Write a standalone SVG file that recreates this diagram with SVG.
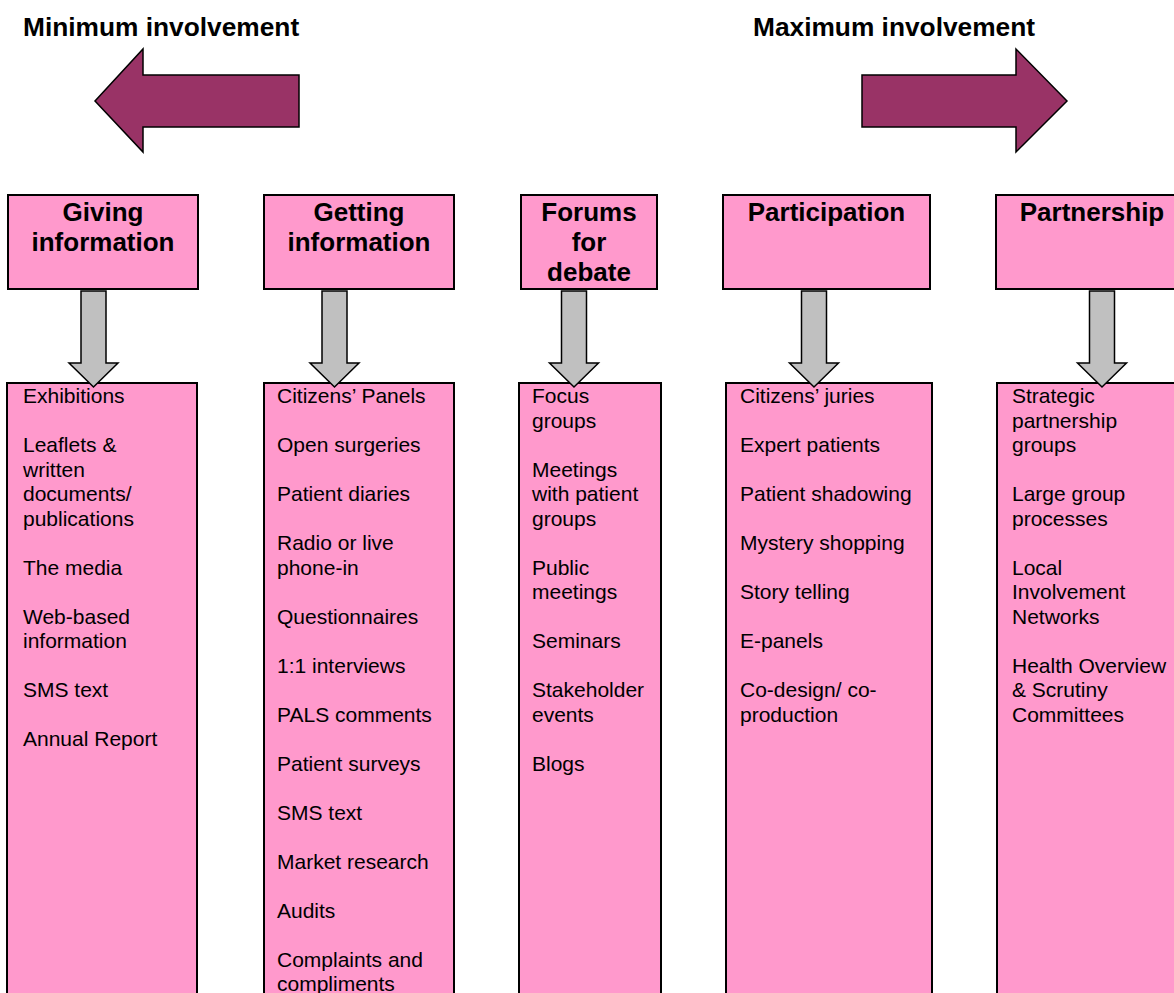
<svg xmlns="http://www.w3.org/2000/svg" xmlns:xlink="http://www.w3.org/1999/xlink" width="1174" height="993" viewBox="0 0 1174 993">
<style>
.box{fill:#FF99CC;stroke:#000;stroke-width:2}
.big{fill:#993366;stroke:#000;stroke-width:1.5;stroke-linejoin:miter}
.down{fill:#C0C0C0;stroke:#000;stroke-width:1.5}
.title{font-family:"Liberation Sans",Arial,sans-serif;font-weight:bold;font-size:26.3px;fill:#000}
.head{font-family:"Liberation Sans",Arial,sans-serif;font-weight:bold;font-size:26px;fill:#000;text-anchor:middle}
.item{font-family:"Liberation Sans",Arial,sans-serif;font-size:21px;fill:#000}
</style>
<defs>
<path id="dn" d="M-12.5,291 H12.5 V363 H24.5 L0,387 L-24.5,363 H-12.5 Z"/>
</defs>
<rect width="1174" height="993" fill="#fff"/>

<g id="title-min">
<text class="title" x="23" y="36">Minimum involvement</text>
<polygon class="big" points="95,101 143,49 143,75 299,75 299,127 143,127 143,152"/>
</g>
<g id="title-max">
<text class="title" x="753" y="36">Maximum involvement</text>
<polygon class="big" points="1067,101 1016,49 1016,75 862,75 862,127 1016,127 1016,152"/>
</g>

<g id="giving">
<rect class="box" x="8" y="195" width="190" height="94"/>
<text class="head" x="103" y="221">Giving</text>
<text class="head" x="103" y="251">information</text>
<rect class="box" x="7" y="383" width="190" height="620"/>
<text class="item" x="23" y="403">Exhibitions</text>
<text class="item" x="23" y="452">Leaflets &amp;</text>
<text class="item" x="23" y="476.5">written</text>
<text class="item" x="23" y="501">documents/</text>
<text class="item" x="23" y="525.5">publications</text>
<text class="item" x="23" y="574.5">The media</text>
<text class="item" x="23" y="623.5">Web-based</text>
<text class="item" x="23" y="648">information</text>
<text class="item" x="23" y="697">SMS text</text>
<text class="item" x="23" y="746">Annual Report</text>
</g>

<g id="getting">
<rect class="box" x="264" y="195" width="190" height="94"/>
<text class="head" x="359" y="221">Getting</text>
<text class="head" x="359" y="251">information</text>
<rect class="box" x="264" y="383" width="190" height="620"/>
<text class="item" x="277" y="403">Citizens’ Panels</text>
<text class="item" x="277" y="452">Open surgeries</text>
<text class="item" x="277" y="501">Patient diaries</text>
<text class="item" x="277" y="550">Radio or live</text>
<text class="item" x="277" y="574.5">phone-in</text>
<text class="item" x="277" y="623.5">Questionnaires</text>
<text class="item" x="277" y="672.5">1:1 interviews</text>
<text class="item" x="277" y="721.5">PALS comments</text>
<text class="item" x="277" y="770.5">Patient surveys</text>
<text class="item" x="277" y="819.5">SMS text</text>
<text class="item" x="277" y="868.5">Market research</text>
<text class="item" x="277" y="917.5">Audits</text>
<text class="item" x="277" y="966.5">Complaints and</text>
<text class="item" x="277" y="991">compliments</text>
</g>

<g id="forums">
<rect class="box" x="521" y="195" width="136" height="94"/>
<text class="head" x="589" y="221">Forums</text>
<text class="head" x="589" y="251">for</text>
<text class="head" x="589" y="281">debate</text>
<rect class="box" x="519" y="383" width="142" height="620"/>
<text class="item" x="532" y="403">Focus</text>
<text class="item" x="532" y="427.5">groups</text>
<text class="item" x="532" y="476.5">Meetings</text>
<text class="item" x="532" y="501">with patient</text>
<text class="item" x="532" y="525.5">groups</text>
<text class="item" x="532" y="574.5">Public</text>
<text class="item" x="532" y="599">meetings</text>
<text class="item" x="532" y="648">Seminars</text>
<text class="item" x="532" y="697">Stakeholder</text>
<text class="item" x="532" y="721.5">events</text>
<text class="item" x="532" y="770.5">Blogs</text>
</g>

<g id="participation">
<rect class="box" x="723" y="195" width="207" height="94"/>
<text class="head" x="826.5" y="221">Participation</text>
<rect class="box" x="726" y="383" width="206" height="620"/>
<text class="item" x="740" y="403">Citizens’ juries</text>
<text class="item" x="740" y="452">Expert patients</text>
<text class="item" x="740" y="501">Patient shadowing</text>
<text class="item" x="740" y="550">Mystery shopping</text>
<text class="item" x="740" y="599">Story telling</text>
<text class="item" x="740" y="648">E-panels</text>
<text class="item" x="740" y="697">Co-design/ co-</text>
<text class="item" x="740" y="721.5">production</text>
</g>

<g id="partnership">
<rect class="box" x="996" y="195" width="192" height="94"/>
<text class="head" x="1092" y="221">Partnership</text>
<rect class="box" x="997" y="383" width="192" height="620"/>
<text class="item" x="1012" y="403">Strategic</text>
<text class="item" x="1012" y="427.5">partnership</text>
<text class="item" x="1012" y="452">groups</text>
<text class="item" x="1012" y="501">Large group</text>
<text class="item" x="1012" y="525.5">processes</text>
<text class="item" x="1012" y="574.5">Local</text>
<text class="item" x="1012" y="599">Involvement</text>
<text class="item" x="1012" y="623.5">Networks</text>
<text class="item" x="1012" y="672.5">Health Overview</text>
<text class="item" x="1012" y="697">&amp; Scrutiny</text>
<text class="item" x="1012" y="721.5">Committees</text>
</g>

<g id="connectors">
<use xlink:href="#dn" class="down" transform="translate(93.5,0)"/>
<use xlink:href="#dn" class="down" transform="translate(334.5,0)"/>
<use xlink:href="#dn" class="down" transform="translate(574,0)"/>
<use xlink:href="#dn" class="down" transform="translate(814,0)"/>
<use xlink:href="#dn" class="down" transform="translate(1102,0)"/>
</g>
</svg>
